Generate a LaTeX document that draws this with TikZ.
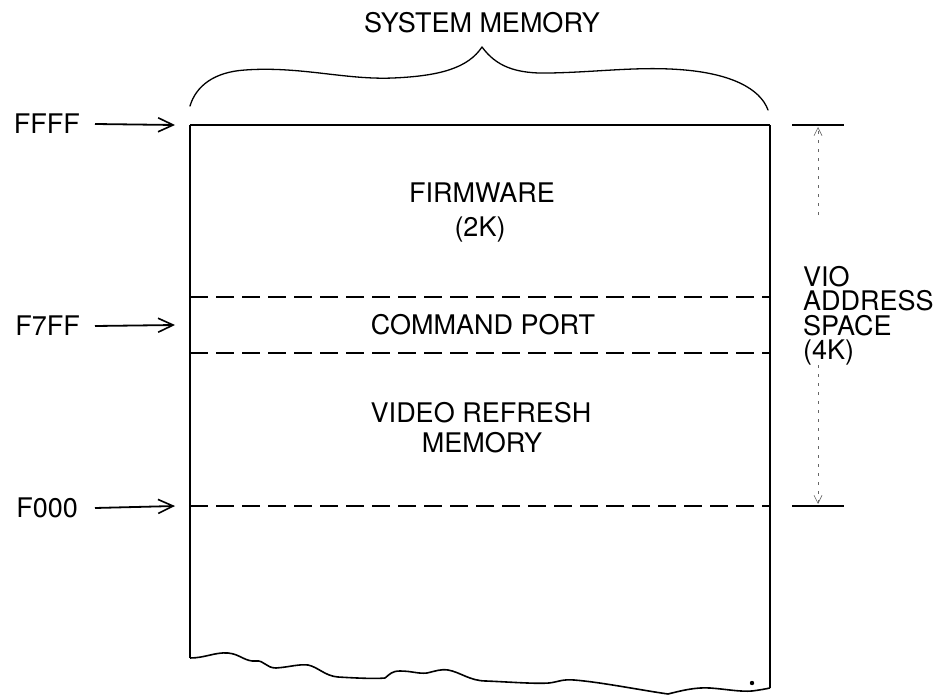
\documentclass[tikz,border=0pt]{standalone}
\usepackage{fontspec}
\setmainfont{TeX Gyre Heros}
\usetikzlibrary{arrows.meta}
\begin{document}
\begin{tikzpicture}[x=1pt,y=-1pt,
  lbl/.style={font=\fontsize{27}{24.5}\selectfont, inner sep=0pt},
  memline/.style={line width=1.3pt},
  topline/.style={line width=2.8pt},
  divider/.style={line width=1.8pt, dash pattern=on 18pt off 8pt},
  ptr/.style={line width=1.8pt, -{Straight Barb[length=15pt,width=14pt,line width=1.6pt]}},
  spanline/.style={line width=0.6pt, black!60, dash pattern=on 3pt off 6pt},
  spanhead/.style={-{Straight Barb[length=8pt,width=8pt]}},
  tick/.style={line width=1.6pt}]
\useasboundingbox (0,0) rectangle (935,696);

% box corners and divider ends
\coordinate (tl) at (190,125);
\coordinate (tr) at (770,125);
\coordinate (bl) at (190,658);
\coordinate (br) at (770,688);
\coordinate (d1l) at (190,297); \coordinate (d1r) at (770,297);
\coordinate (d2l) at (190,353); \coordinate (d2r) at (770,353);
\coordinate (d3l) at (190,506); \coordinate (d3r) at (770,506);

% title and brace
\node[lbl] (title) at (482,23) {SYSTEM MEMORY};
\draw[line width=1.3pt, line cap=round, line join=round]
  (190,106) .. controls (196,86) and (214,72) .. (245,70)
  .. controls (300,66) and (345,80) .. (393,78)
  .. controls (440,76) and (468,68) .. (482,47)
  .. controls (496,66) and (515,74) .. (550,73)
  .. controls (600,72) and (640,66) .. (685,70)
  .. controls (730,74) and (760,88) .. (768,110);

% memory column
\draw[topline] (tl) -- (tr);
\draw[memline] (tl) -- (bl);
\draw[memline] (tr) -- (br);
\draw[line width=1.6pt, line join=round]
  (bl) .. controls (205,658) and (215,652) .. (228,653)
  .. controls (240,654) and (245,662) .. (256,661)
  .. controls (264,660) and (266,668) .. (276,668)
  .. controls (290,667) and (298,664) .. (308,665)
  .. controls (318,667) and (325,676) .. (338,677)
  .. controls (355,678) and (375,679) .. (385,678)
  .. controls (390,674) and (392,671) .. (400,671)
  .. controls (412,671) and (418,674) .. (427,673)
  .. controls (436,671) and (440,669) .. (448,670)
  .. controls (460,672) and (470,681) .. (486,681)
  .. controls (510,682) and (535,684) .. (549,683)
  .. controls (558,682) and (562,679) .. (574,680)
  .. controls (600,682) and (640,690) .. (668,694)
  .. controls (680,691) and (695,687) .. (710,688)
  .. controls (725,689) and (740,692) .. (752,691)
  .. controls (760,690) and (765,689) .. (br);
\fill (752,683) circle (2.2pt);

% region dividers
\draw[divider] (d1l) -- (d1r);
\draw[divider] (d2l) -- (d2r);
\draw[divider] (d3l) -- (d3r);

% region labels
\node[lbl] (fw) at (482,193) {FIRMWARE};
\node[lbl] (fwsize) at (480,230) {(2K)};
\node[lbl] (cmd) at (483,325) {COMMAND PORT};
\node[lbl] (vid) at (481,413) {VIDEO REFRESH};
\node[lbl] (vidmem) at (482,443) {MEMORY};

% address pointers
\node[lbl, anchor=east] (affff) at (80,124) {FFFF};
\node[lbl, anchor=east] (af7ff) at (80,326) {F7FF};
\node[lbl, anchor=east] (af000) at (78,508) {F000};
\coordinate (pffff) at (175,125);
\coordinate (pf7ff) at (175,325);
\coordinate (pf000) at (175,506);
\draw[ptr] ([xshift=15pt]affff.east) -- (pffff);
\draw[ptr] ([xshift=15pt]af7ff.east) -- (pf7ff);
\draw[ptr] ([xshift=17pt]af000.east) -- (pf000);

% VIO address space extent
\coordinate (t1a) at (792,125); \coordinate (t1b) at (844,125);
\coordinate (t2a) at (792,506); \coordinate (t2b) at (844,506);
\draw[tick] (t1a) -- (t1b);
\draw[tick] (t2a) -- (t2b);
\coordinate (sa) at (818,127);
\coordinate (sam) at (818,215);
\coordinate (sbm) at (818,365);
\coordinate (sb) at (818,504);
\draw[spanline, spanhead] (sam) -- (sa);
\draw[spanline, spanhead] (sbm) -- (sb);
\node[lbl, anchor=north west, align=left] (vio) at (803,266)
  {VIO\\ADDRESS\\SPACE\\(4K)};
\end{tikzpicture}
\end{document}
